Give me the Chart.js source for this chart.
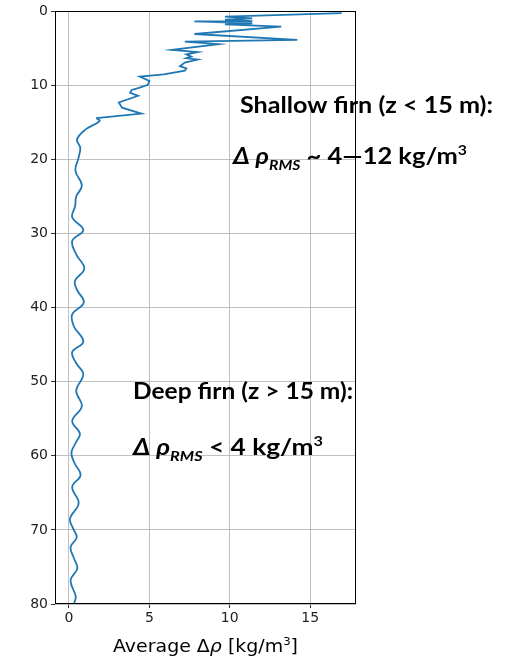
<!DOCTYPE html>
<html>
<head>
<meta charset="utf-8">
<script src="https://cdn.jsdelivr.net/npm/chart.js@4.4.1/dist/chart.umd.min.js"></script>
<style>
  html, body { margin: 0; padding: 0; background: #fff; }
  #wrap { width: 519px; height: 657px; position: relative; }
</style>
</head>
<body>
<div id="wrap"><canvas id="profile"></canvas></div>
<script>
// shallow firn: jagged part of the profile (depth in m, average delta rho in kg/m3)
const shallowDepth = [0.23, 0.7, 0.95, 1.1, 1.3, 1.35, 1.6, 1.75, 2.05, 3.05, 3.85, 4.07, 4.43, 5.2, 5.5, 5.8, 6.1, 6.3, 6.5, 6.9, 7.4, 7.7, 8.0, 8.5, 8.8, 9.4, 9.9, 10.3, 10.6, 11.0, 11.4, 12.3, 13.0, 13.8, 14.4];
const shallowDrho  = [16.96, 9.7, 11.4, 9.7, 11.4, 7.8, 11.4, 9.7, 13.2, 7.8, 14.2, 7.2, 9.3, 6.4, 8.0, 7.3, 7.6, 7.3, 8.0, 7.2, 6.9, 7.3, 7.2, 5.9, 4.4, 5.0, 4.9, 4.4, 3.9, 3.8, 4.3, 3.1, 3.3, 4.5, 1.7];

// deep firn: smooth part
const deepDepth = [14.4, 14.8, 16.0, 17.3, 18.4, 19.7, 21.5, 23.5, 25.0, 26.3, 27.8, 29.5, 31.0, 32.8, 34.7, 36.4, 37.6, 39.3, 40.9, 42.5, 44.6, 46.0, 47.5, 49.0, 51.2, 53.3, 55.3, 57.0, 58.3, 59.6, 61.0, 62.6, 64.2, 66.4, 68.5, 70.0, 71.0, 72.3, 73.8, 75.2, 76.8, 79.0, 80.0];
const deepDrho  = [1.7, 1.9, 1.0, 0.5, 0.7, 0.6, 0.4, 0.8, 0.45, 0.38, 0.2, 0.89, 0.2, 0.45, 0.95, 0.37, 0.5, 0.92, 0.2, 0.3, 0.89, 0.2, 0.45, 0.89, 0.45, 0.8, 0.2, 0.68, 0.4, 0.15, 0.35, 0.72, 0.2, 0.6, 0.06, 0.3, 0.48, 0.1, 0.3, 0.52, 0.1, 0.42, 0.3];

const depthTicks = [0, 10, 20, 30, 40, 50, 60, 70, 80];
const drhoTicks = [0, 5, 10, 15];

const lineColor = '#1f77b4';
const toPoints = (ds, vs) => ds.map((d, i) => ({ x: vs[i], y: d }));

// draws a line of text made of pieces (italic, sub/superscript), squeezed to a width
function drawRich(ctx, segs, x, baseline, size, family, targetWidth) {
    const parts = segs.map(s => {
        const fs = (s.sub || s.sup) ? size * 0.62 : size;
        const font = `${s.italic ? 'italic ' : ''}${s.bold ? 'bold ' : ''}${fs}px ${family}`;
        ctx.font = font;
        return { t: s.t, font, w: ctx.measureText(s.t).width, dy: s.sub ? size * 0.28 : s.sup ? -size * 0.42 : 0 };
    });
    const total = parts.reduce((a, p) => a + p.w, 0);
    const k = targetWidth ? targetWidth / total : 1;
    ctx.save();
    ctx.translate(x, baseline);
    ctx.scale(k, 1);
    ctx.fillStyle = '#000';
    ctx.textBaseline = 'alphabetic';
    ctx.textAlign = 'left';
    let cx = 0;
    parts.forEach(p => {
        ctx.font = p.font;
        ctx.fillText(p.t, cx, p.dy);
        cx += p.w;
    });
    ctx.restore();
}

const annotations = {
    id: 'annotations',
    afterDraw(chart) {
        const ctx = chart.ctx;
        const a = chart.chartArea;

        // frame on all four sides
        ctx.save();
        ctx.strokeStyle = '#000';
        ctx.lineWidth = 1;
        ctx.strokeRect(Math.round(a.left) + 0.5, Math.round(a.top) + 0.5,
            Math.round(a.right - a.left) - 1, Math.round(a.bottom - a.top) - 1);
        ctx.restore();

        const fam = 'Lato, "Open Sans", sans-serif';
        drawRich(ctx, [{ t: 'Shallow firn (z < 15 m):', bold: true }], 240, 113, 22, fam, 253);
        drawRich(ctx, [
            { t: 'Δ ρ', bold: true, italic: true },
            { t: 'RMS', bold: true, italic: true, sub: true },
            { t: ' ~ 4—12 kg/m', bold: true },
            { t: '3', bold: true, sup: true }
        ], 233, 164, 22, fam, 234);
        drawRich(ctx, [{ t: 'Deep firn (z > 15 m):', bold: true }], 133, 399, 22, fam, 220);
        drawRich(ctx, [
            { t: 'Δ ρ', bold: true, italic: true },
            { t: 'RMS', bold: true, italic: true, sub: true },
            { t: ' < 4 kg/m', bold: true },
            { t: '3', bold: true, sup: true }
        ], 133, 455, 22, fam, 190);

        // x axis title
        const tf = '"DejaVu Sans", sans-serif';
        drawRich(ctx, [
            { t: 'Average Δ' },
            { t: 'ρ', italic: true },
            { t: ' [kg/m' },
            { t: '3', sup: true },
            { t: ']' }
        ], 113, 652, 17, tf, 185);
    }
};

const tickFont = { family: '"DejaVu Sans", sans-serif', size: 14 };

new Chart(document.getElementById('profile').getContext('2d'), {
    type: 'scatter',
    data: {
        datasets: [
            {
                data: toPoints(shallowDepth, shallowDrho),
                showLine: true,
                borderColor: lineColor,
                borderWidth: 1.8,
                pointRadius: 0,
                tension: 0
            },
            {
                data: toPoints(deepDepth, deepDrho),
                showLine: true,
                borderColor: lineColor,
                borderWidth: 1.8,
                pointRadius: 0,
                tension: 0.4
            }
        ]
    },
    options: {
        responsive: true,
        maintainAspectRatio: false,
        animation: false,
        layout: { padding: { left: 0, top: 8, right: 163, bottom: 0 } },
        plugins: { legend: { display: false }, tooltip: { enabled: false } },
        scales: {
            x: {
                type: 'linear',
                min: -0.87,
                max: 17.85,
                afterBuildTicks: s => { s.ticks = drhoTicks.map(v => ({ value: v })); },
                afterFit: s => { s.height = 53; },
                border: { display: false },
                grid: { color: '#b0b0b0', lineWidth: 0.8, tickLength: 4, tickColor: '#000' },
                ticks: { color: '#222', font: tickFont, padding: 2 }
            },
            y: {
                type: 'linear',
                reverse: true,
                min: 0,
                max: 80,
                afterBuildTicks: s => { s.ticks = depthTicks.map(v => ({ value: v })); },
                afterFit: s => { s.width = 55; },
                border: { display: false },
                grid: { color: '#b0b0b0', lineWidth: 0.8, tickLength: 4, tickColor: '#000' },
                ticks: { color: '#222', font: tickFont, padding: 3 }
            }
        }
    },
    plugins: [annotations]
});
</script>
</body>
</html>
